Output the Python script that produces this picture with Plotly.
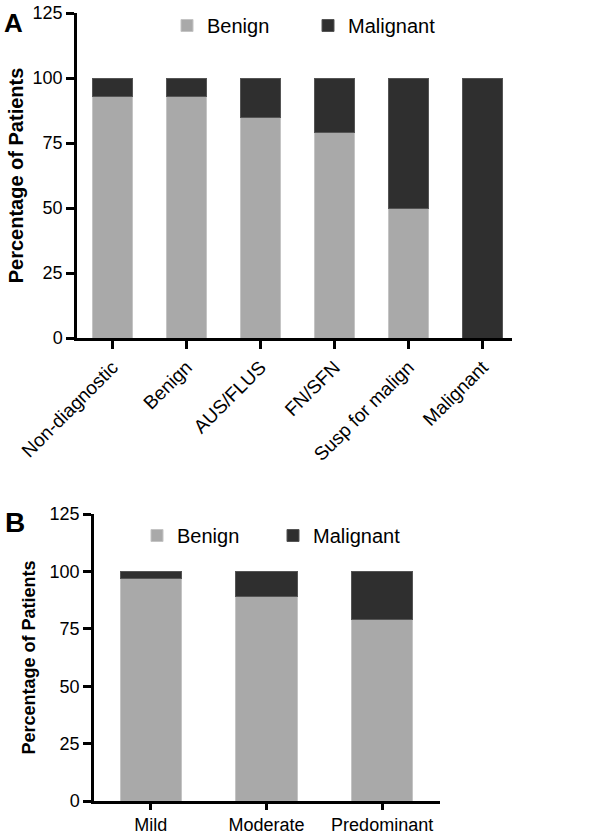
import plotly.graph_objects as go

# Panel A data
cats_a = ["Non-diagnostic", "Benign", "AUS/FLUS", "FN/SFN", "Susp for malign", "Malignant"]
benign_a = [93, 93, 85, 79, 50, 0]
malig_a = [7, 7, 15, 21, 50, 100]

# Panel B data
cats_b = ["Mild", "Moderate", "Predominant"]
benign_b = [97, 89, 79]
malig_b = [3, 11, 21]

LIGHT = "#a9a9a9"
DARK = "#2f2f2f"
FONT = "Arial, Liberation Sans, Helvetica, sans-serif"

W, H = 600, 837

def px_x(p):
    return p / W

def px_y(p):
    return (H - p) / H

fig = go.Figure()

fig.add_trace(go.Bar(x=cats_a, y=benign_a, name="Benign", marker=dict(color=LIGHT, line=dict(color="#c4c4c4", width=1)),
                     width=0.55, xaxis="x", yaxis="y", legend="legend"))
fig.add_trace(go.Bar(x=cats_a, y=malig_a, name="Malignant", marker=dict(color=DARK, line=dict(color="#555555", width=1)),
                     width=0.55, xaxis="x", yaxis="y", legend="legend"))
fig.add_trace(go.Bar(x=cats_b, y=benign_b, name="Benign", marker=dict(color=LIGHT, line=dict(color="#c4c4c4", width=1)),
                     width=0.53, xaxis="x2", yaxis="y2", legend="legend2"))
fig.add_trace(go.Bar(x=cats_b, y=malig_b, name="Malignant", marker=dict(color=DARK, line=dict(color="#555555", width=1)),
                     width=0.53, xaxis="x2", yaxis="y2", legend="legend2"))

axis_common = dict(showgrid=False, zeroline=False, showline=True, linecolor="black", linewidth=2.5,
                   ticks="outside", ticklen=8, tickwidth=2.5, tickcolor="black", automargin=False,
                   tickfont=dict(family=FONT, size=18, color="black"))

fig.update_layout(
    width=W, height=H,
    margin=dict(l=0, r=0, t=0, b=0),
    paper_bgcolor="white", plot_bgcolor="white",
    barmode="stack",
    font=dict(family=FONT, color="black"),
    xaxis=dict(**{**axis_common, "tickfont": dict(family=FONT, size=19, color="black")},
               domain=[px_x(77), px_x(512)], anchor="y", range=[-0.48, 5.4], tickangle=-45),
    yaxis=dict(**axis_common, domain=[px_y(338), px_y(13)], anchor="x", range=[0, 125], dtick=25,
               title=dict(text="<b>Percentage of Patients</b>", font=dict(family=FONT, size=20), standoff=4)),
    xaxis2=dict(**{**axis_common, "tickfont": dict(family=FONT, size=18, color="black"), "ticklen": 6},
                domain=[px_x(94), px_x(440)], anchor="y2", range=[-0.49, 2.5], tickangle=0),
    yaxis2=dict(**axis_common, domain=[px_y(801), px_y(514)], anchor="x2", range=[0, 125], dtick=25,
                title=dict(text="<b>Percentage of Patients</b>", font=dict(family=FONT, size=18), standoff=10)),
    legend=dict(orientation="h", x=px_x(167), y=px_y(6), xanchor="left", yanchor="top", traceorder="normal",
                font=dict(family=FONT, size=20), entrywidth=96, entrywidthmode="pixels", bgcolor="rgba(0,0,0,0)"),
    legend2=dict(orientation="h", x=px_x(137), y=px_y(516), xanchor="left", yanchor="top", traceorder="normal",
                 font=dict(family=FONT, size=20), entrywidth=91, entrywidthmode="pixels", bgcolor="rgba(0,0,0,0)"),
    annotations=[
        dict(text="<b>A</b>", x=px_x(2), y=px_y(6), xref="paper", yref="paper", xanchor="left", yanchor="top",
             showarrow=False, font=dict(family=FONT, size=26)),
        dict(text="<b>B</b>", x=px_x(3), y=px_y(505), xref="paper", yref="paper", xanchor="left", yanchor="top",
             showarrow=False, font=dict(family=FONT, size=28)),
    ],
)

fig.write_html("out.html", post_script="document.body.style.margin='0';",
               config={"displayModeBar": False})
